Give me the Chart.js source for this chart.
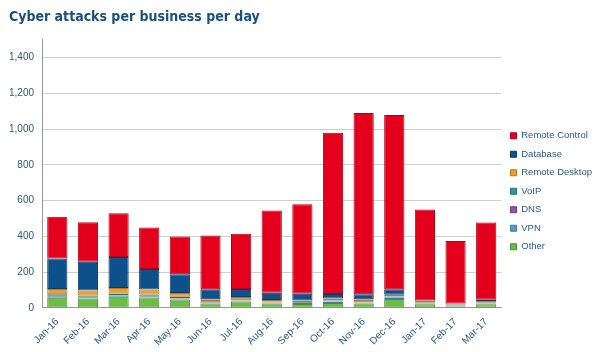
<!DOCTYPE html>
<html>
<head>
<meta charset="utf-8">
<script src="https://cdn.jsdelivr.net/npm/chart.js@4"></script>
<style>
  html, body { margin: 0; padding: 0; background: #fff; }
  #wrap { width: 606px; height: 352px; position: relative; }
</style>
</head>
<body>
<div id="wrap"><canvas id="chart"></canvas></div>
<script>
// Cyber attacks per business per day, stacked by attack type

const months = ['Jan-16', 'Feb-16', 'Mar-16', 'Apr-16', 'May-16', 'Jun-16', 'Jul-16',
  'Aug-16', 'Sep-16', 'Oct-16', 'Nov-16', 'Dec-16', 'Jan-17', 'Feb-17', 'Mar-17'];

const other         = [57, 53, 62, 58, 47, 25, 36, 25, 22, 28, 25, 50, 20, 8, 20];
const vpn           = [8, 7, 8, 7, 6, 6, 5, 5, 5, 6, 5, 6, 4, 3, 4];
const dns           = [3, 3, 3, 3, 2, 3, 2, 2, 2, 2, 2, 2, 1, 1, 1];
const voip          = [8, 7, 8, 7, 7, 5, 6, 4, 4, 5, 6, 6, 4, 3, 4];
const remoteDesktop = [30, 28, 30, 28, 22, 10, 12, 9, 9, 12, 10, 10, 5, 4, 5];
const database      = [170, 161, 174, 115, 104, 55, 45, 40, 38, 25, 28, 30, 8, 6, 12];
const remoteControl = [234, 221, 245, 232, 212, 301, 309, 460, 500, 902, 1014, 976, 508, 350, 432];

const yTicks = [0, 200, 400, 600, 800, 1000, 1200, 1400];

const textColor = '#2b5783';
const font = 'Liberation Sans';

function series(label, data, fill, edge) {
  return {
    label: label,
    data: data,
    backgroundColor: fill,
    borderColor: edge,
    borderWidth: 1,
    borderSkipped: false,
    categoryPercentage: 1,
    barPercentage: 0.66
  };
}

new Chart(document.getElementById('chart'), {
  type: 'bar',
  data: {
    labels: months,
    datasets: [
      series('Other', other, '#6cbd45', '#4f8f33'),
      series('VPN', vpn, '#5d9cc9', '#3f7aa3'),
      series('DNS', dns, '#8d5aa8', '#6a3f84'),
      series('VoIP', voip, '#2f9c93', '#1f756e'),
      series('Remote Desktop', remoteDesktop, '#f0a028', '#c0761a'),
      series('Database', database, '#0d508c', '#0a3a66'),
      series('Remote Control', remoteControl, '#e4001d', '#b50017')
    ]
  },
  options: {
    responsive: true,
    maintainAspectRatio: false,
    animation: false,
    layout: { padding: { left: 9, right: 4, top: 0, bottom: 4 } },
    plugins: {
      title: {
        display: true,
        text: 'Cyber attacks per business per day',
        align: 'start',
        color: '#1b4f7f',
        font: { family: "'DejaVu Sans Condensed', 'DejaVu Sans'", size: 14, weight: 'bold' },
        padding: { top: 9, bottom: 14 }
      },
      legend: {
        position: 'right',
        reverse: true,
        align: 'start',
        title: {
          display: true,
          text: ' ',
          font: { size: 10 },
          padding: { top: 110, bottom: 0 }
        },
        labels: {
          color: textColor,
          font: { family: font, size: 9.5 },
          boxWidth: 6,
          boxHeight: 6,
          padding: 9
        }
      },
      tooltip: { enabled: false }
    },
    scales: {
      x: {
        stacked: true,
        grid: { display: false },
        border: { color: '#999' },
        // rotated labels may hang past the plot edge, like the original
        afterFit: scale => {
          scale.paddingLeft = 0;
          scale.paddingRight = 0;
        },
        ticks: {
          color: textColor,
          font: { family: font, size: 10 },
          padding: 0,
          minRotation: 45,
          maxRotation: 45
        }
      },
      y: {
        stacked: true,
        min: 0,
        max: 1500,
        afterBuildTicks: axis => {
          axis.ticks = yTicks.map(v => ({ value: v }));
        },
        afterFit: scale => {
          scale.width = 33;
        },
        grid: { color: '#cfcfcf', drawTicks: false },
        border: { color: '#999' },
        ticks: {
          color: textColor,
          font: { family: font, size: 10 },
          padding: 8,
          callback: v => v.toLocaleString('en-US')
        }
      }
    }
  }
});
</script>
</body>
</html>
